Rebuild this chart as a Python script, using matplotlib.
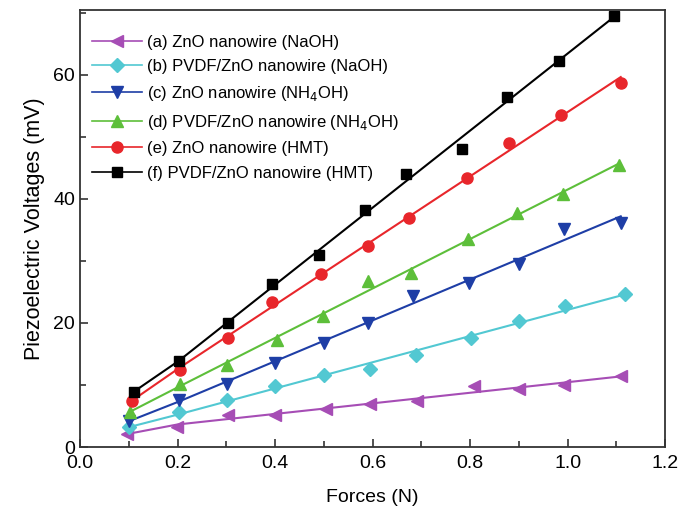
import numpy as np
import matplotlib
matplotlib.use("Agg")
import matplotlib.pyplot as plt
from matplotlib.ticker import MultipleLocator

plt.rcParams['font.family'] = ['Liberation Sans', 'DejaVu Sans']

# forces (N) and voltages (mV)
x_a = [0.097, 0.199, 0.304, 0.400, 0.505, 0.595, 0.692, 0.808, 0.901, 0.993, 1.110]
y_a = [2.1, 3.2, 5.1, 5.2, 6.2, 6.95, 7.4, 9.9, 9.4, 10.0, 11.4]

x_b = [0.100, 0.203, 0.301, 0.400, 0.501, 0.595, 0.690, 0.802, 0.901, 0.995, 1.117]
y_b = [3.2, 5.6, 7.65, 9.8, 11.6, 12.6, 14.8, 17.5, 20.4, 22.7, 24.7]

x_c = [0.100, 0.203, 0.301, 0.400, 0.501, 0.590, 0.682, 0.797, 0.900, 0.993, 1.109]
y_c = [4.15, 7.65, 10.2, 13.6, 16.8, 20.05, 24.4, 26.4, 29.5, 35.1, 36.2]

x_d = [0.103, 0.206, 0.301, 0.403, 0.498, 0.590, 0.678, 0.796, 0.896, 0.991, 1.106]
y_d = [5.7, 10.1, 13.2, 17.25, 21.1, 26.8, 28.1, 33.5, 37.8, 40.8, 45.5]

x_e = [0.107, 0.205, 0.303, 0.393, 0.495, 0.590, 0.675, 0.794, 0.880, 0.987, 1.109]
y_e = [7.5, 12.35, 17.6, 23.4, 27.9, 32.45, 37.0, 43.3, 49.0, 53.5, 58.7]

x_f = [0.110, 0.203, 0.303, 0.393, 0.491, 0.585, 0.668, 0.784, 0.876, 0.983, 1.095]
y_f = [8.9, 13.9, 19.95, 26.3, 30.9, 38.2, 44.0, 48.0, 56.5, 62.3, 69.5]

labels = ['(a) ZnO nanowire (NaOH)',
          '(b) PVDF/ZnO nanowire (NaOH)',
          '(c) ZnO nanowire (NH$_4$OH)',
          '(d) PVDF/ZnO nanowire (NH$_4$OH)',
          '(e) ZnO nanowire (HMT)',
          '(f) PVDF/ZnO nanowire (HMT)']
colors = ['#a64db5', '#52c8d2', '#1e3ea6', '#5dbf3a', '#e8262b', '#000000']
markers = ['<', 'D', 'v', '^', 'o', 's']
sizes = [9, 7, 9, 9, 8, 7]

series = [(x_a, y_a), (x_b, y_b), (x_c, y_c), (x_d, y_d), (x_e, y_e), (x_f, y_f)]

fig = plt.figure(figsize=(6.78, 5.15), dpi=100)
ax = fig.add_axes([0.118, 0.132, 0.863, 0.849])

for (xs, ys), lab, c, m, s in zip(series, labels, colors, markers, sizes):
    xs = np.array(xs)
    ys = np.array(ys)
    k, b = np.polyfit(xs[1:], ys[1:], 1)
    # first point joined to the fit, then linear fit to the end
    xl = np.array([xs[0], xs[1], xs[-1]])
    yl = np.array([ys[0], k * xs[1] + b, k * xs[-1] + b])
    ax.plot(xl, yl, color=c, lw=1.5)
    ax.plot(xs, ys, ls='none', marker=m, color=c, ms=s, mec=c)
    # legend handle
    ax.plot([], [], color=c, lw=1.2, marker=m, ms=s, mec=c, label=lab)

ax.set_xlim(0.0, 1.2)
ax.set_ylim(0, 70.5)
ax.xaxis.set_major_locator(MultipleLocator(0.2))
ax.xaxis.set_minor_locator(MultipleLocator(0.1))
ax.yaxis.set_major_locator(MultipleLocator(20))
ax.yaxis.set_minor_locator(MultipleLocator(10))
ax.xaxis.set_major_formatter(plt.FuncFormatter(lambda v, p: '%.1f' % v))
ax.tick_params(which='both', direction='in', top=False, right=False, labelsize=14, color='#333333')
ax.tick_params(which='major', length=6, width=1.2)
ax.tick_params(axis='x', which='major', pad=6)
ax.tick_params(which='minor', length=4, width=1.2)
for sp in ax.spines.values():
    sp.set_linewidth(1.3)
    sp.set_color('#333333')

ax.set_xlabel('Forces (N)', fontsize=14, labelpad=12)
ax.set_ylabel('Piezoelectric Voltages (mV)', fontsize=15.5, labelpad=6)

ax.legend(loc='upper left', bbox_to_anchor=(0.0, 0.97), frameon=False, fontsize=12,
          handlelength=3.0, handletextpad=0.3, labelspacing=0.58, borderaxespad=0.3)

fig.savefig('out.png', dpi=100)
